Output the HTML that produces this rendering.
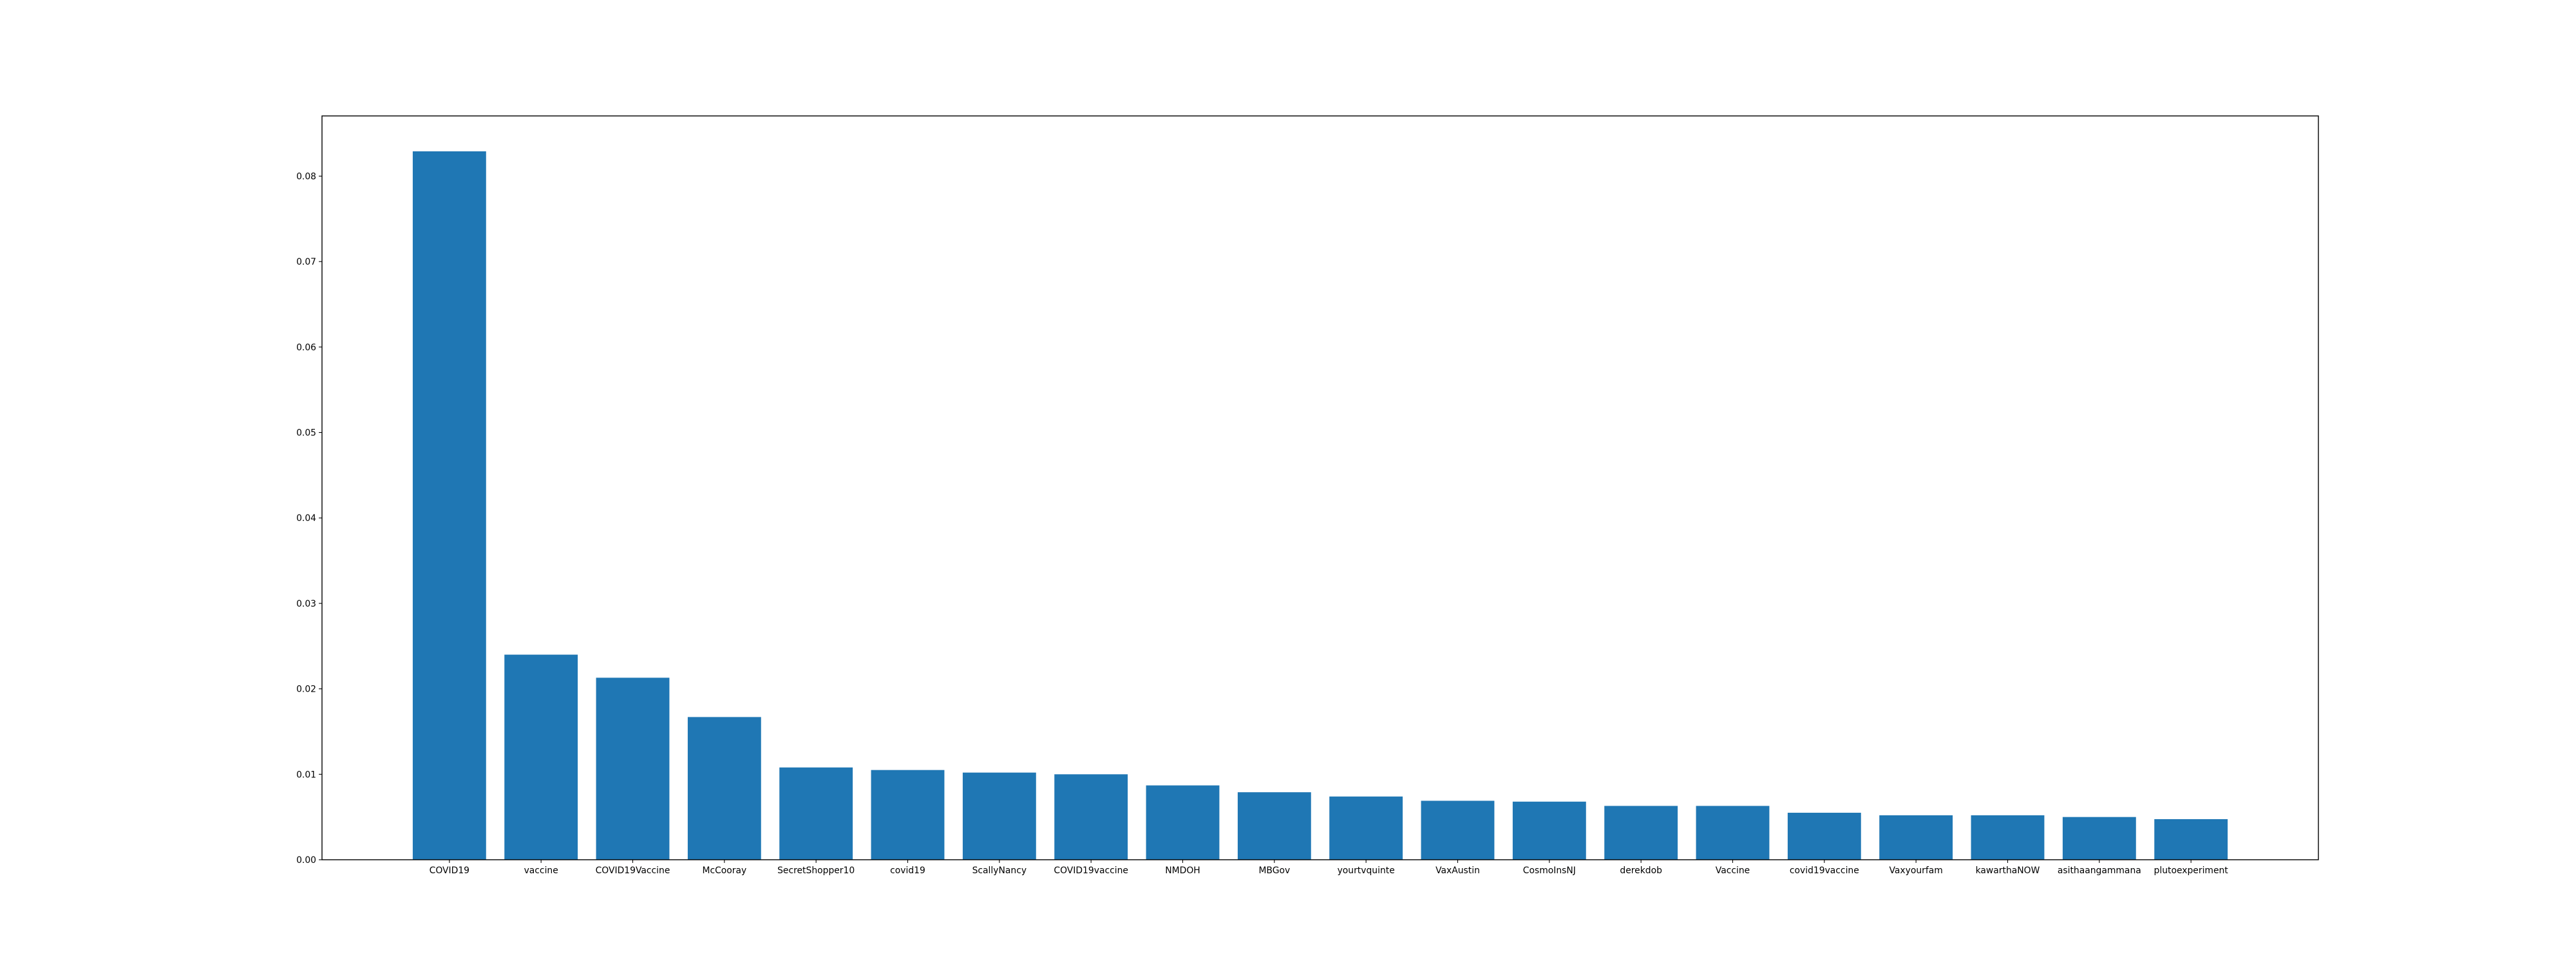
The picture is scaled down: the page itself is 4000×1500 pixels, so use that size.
<!DOCTYPE html>
<html><head><meta charset="utf-8"><style>
html,body{margin:0;padding:0;background:#fff;}
svg{display:block;}
text{font-family:"DejaVu Sans","Liberation Sans",sans-serif;font-size:13.9px;fill:#000;}
</style></head><body>
<svg id="chart" width="4000" height="1500" xmlns="http://www.w3.org/2000/svg">
<rect x="0" y="0" width="4000" height="1500" fill="#fff"/>
<g id="bars"></g>
<g id="xticks"></g>
<g id="yticks"></g>
<rect x="500" y="180" width="3100" height="1155" fill="none" stroke="#000" stroke-width="1.4"/>
</svg>
<script>
const categories = ["COVID19","vaccine","COVID19Vaccine","McCooray","SecretShopper10","covid19","ScallyNancy","COVID19vaccine","NMDOH","MBGov","yourtvquinte","VaxAustin","CosmoInsNJ","derekdob","Vaccine","covid19vaccine","Vaxyourfam","kawarthaNOW","asithaangammana","plutoexperiment"];
const values = [0.0829,0.0240,0.0213,0.0167,0.0108,0.0105,0.0102,0.0100,0.0087,0.0079,0.0074,0.0069,0.0068,0.0063,0.0063,0.0055,0.0052,0.0052,0.0050,0.00475];
const yTickValues = [0,0.01,0.02,0.03,0.04,0.05,0.06,0.07,0.08];
const yTickLabels = ["0.00","0.01","0.02","0.03","0.04","0.05","0.06","0.07","0.08"];

const NS = "http://www.w3.org/2000/svg";
const L=500,R=3600,T=180,B=1335;
const n = categories.length;
const xmin = -0.4 - 0.05*(n-1+0.8), xmax = (n-1)+0.4 + 0.05*(n-1+0.8);
const ymax = Math.max(...values)*1.05;
function xs(v){return L+(v-xmin)/(xmax-xmin)*(R-L);}
function ys(v){return B-v/ymax*(B-T);}
const gb=document.getElementById('bars'), gx=document.getElementById('xticks'), gy=document.getElementById('yticks');
categories.forEach((c,i)=>{
  const r=document.createElementNS(NS,'rect');
  r.setAttribute('x',xs(i-0.4)); r.setAttribute('width',xs(i+0.4)-xs(i-0.4));
  r.setAttribute('y',ys(values[i])); r.setAttribute('height',B-ys(values[i]));
  r.setAttribute('fill','#1f77b4');
  
  
  gb.appendChild(r);
  const t=document.createElementNS(NS,'line');
  t.setAttribute('x1',xs(i));t.setAttribute('x2',xs(i));t.setAttribute('y1',B);t.setAttribute('y2',B+4.9);
  t.setAttribute('stroke','#000');t.setAttribute('stroke-width','1.1');
  
  
  gx.appendChild(t);
  const tx=document.createElementNS(NS,'text');
  tx.setAttribute('x',xs(i));tx.setAttribute('y',B+21);tx.setAttribute('text-anchor','middle');
  tx.textContent=c;
  
  
  gx.appendChild(tx);
});
yTickValues.forEach((v,i)=>{
  const t=document.createElementNS(NS,'line');
  t.setAttribute('x1',L-4.9);t.setAttribute('x2',L);t.setAttribute('y1',ys(v));t.setAttribute('y2',ys(v));
  t.setAttribute('stroke','#000');t.setAttribute('stroke-width','1.1');
  
  
  gy.appendChild(t);
  const tx=document.createElementNS(NS,'text');
  tx.setAttribute('x',L-9);tx.setAttribute('y',ys(v)+5);tx.setAttribute('text-anchor','end');
  tx.textContent=yTickLabels[i];
  
  
  gy.appendChild(tx);
});
</script>
</body></html>
